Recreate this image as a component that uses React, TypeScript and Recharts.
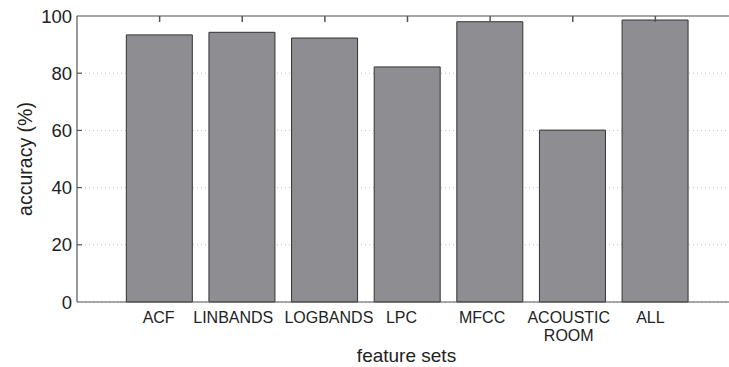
import React from 'react';
import { BarChart, Bar, XAxis, YAxis, CartesianGrid } from 'recharts';

const categories = ['ACF', 'LINBANDS', 'LOGBANDS', 'LPC', 'MFCC', 'ACOUSTIC\nROOM', 'ALL'];
const accuracy = [93.4, 94.3, 92.3, 82.2, 98.0, 60.1, 98.6];
const yTicks = [0, 20, 40, 60, 80, 100];
const xPositions = [1, 2, 3, 4, 5, 6, 7];

const data = categories.map((c, i) => ({ x: xPositions[i], name: c, value: accuracy[i] }));

// small horizontal nudges of the category labels, as in the original figure
const labelNudge = [-1, -9, 4, -6, -8, -4, -5];

const FONT = 'Liberation Sans, Arial, Helvetica, sans-serif';
const AXIS = '#555';
const MARGIN = { top: 15, right: 7, bottom: 0, left: 0 };
const PLOT_TOP = 16;

const XTick = (props: any) => {
  const { x, y, payload } = props;
  const idx = xPositions.indexOf(payload.value);
  const label = idx >= 0 ? categories[idx] : '';
  const dx = idx >= 0 ? labelNudge[idx] : 0;
  const lines = label.split('\n');
  return (
    <g>
      <line x1={x} x2={x} y1={PLOT_TOP} y2={PLOT_TOP + 6} stroke={AXIS} strokeWidth={1.5} />
      {lines.map((l, i) => (
        <text key={i} x={x + dx} y={y + 21 + i * 18} textAnchor="middle" fontSize={16} fill="#222" fontFamily={FONT}>
          {l}
        </text>
      ))}
    </g>
  );
};

const YTick = (props: any) => {
  const { x, y, payload } = props;
  const ax = x + 5;
  return (
    <g>
      <text x={x} y={y} dy="0.36em" textAnchor="end" fontSize={18.5} fill="#222" fontFamily={FONT}>
        {payload.value}
      </text>
      {payload.value > 0 && payload.value < 100 ? (
        <line x1={ax} x2={ax + 5} y1={y} y2={y} stroke={AXIS} strokeWidth={1.2} />
      ) : null}
    </g>
  );
};

export default function App() {
  return (
    <div style={{ position: 'absolute', left: 0, top: 0, width: 729, height: 367, overflow: 'hidden', background: '#fff' }}>
      <BarChart width={745} height={367} data={data} margin={MARGIN}>
        <CartesianGrid vertical={false} stroke="#c4c4c4" strokeDasharray="1 3" />
        <XAxis
          dataKey="x"
          type="number"
          domain={[0, 8]}
          ticks={xPositions}
          height={65}
          tickSize={0}
          tickMargin={0}
          tickLine={false}
          axisLine={{ stroke: AXIS, strokeWidth: 1.2 }}
          tick={<XTick />}
          interval={0}
          label={{
            content: (p: any) => {
              const vb = p.viewBox;
              return (
                <text x={vb.x + vb.width / 2 - 1} y={362} textAnchor="middle" fontSize={19} fill="#222" fontFamily={FONT}>
                  feature sets
                </text>
              );
            },
          }}
        />
        <XAxis
          xAxisId="top"
          orientation="top"
          type="number"
          domain={[0, 8]}
          ticks={xPositions}
          height={1}
          tick={false}
          tickLine={false}
          axisLine={{ stroke: AXIS, strokeWidth: 1.2 }}
        />
        <YAxis
          type="number"
          domain={[0, 100]}
          ticks={yTicks}
          width={77}
          tickSize={3}
          tickMargin={2}
          tickLine={false}
          axisLine={{ stroke: AXIS, strokeWidth: 1.2 }}
          tick={<YTick />}
          interval={0}
          label={{
            content: (p: any) => {
              const vb = p.viewBox;
              const cy = vb.y + vb.height / 2;
              return (
                <text x={25} y={cy} transform={`rotate(-90, 25, ${cy})`} textAnchor="middle" dominantBaseline="central" fontSize={19.5} fill="#222" fontFamily={FONT}>
                  accuracy (%)
                </text>
              );
            },
          }}
        />
        <Bar dataKey="value" barSize={66} fill="#8e8e92" stroke="#333" strokeWidth={1} isAnimationActive={false} />
      </BarChart>
    </div>
  );
}
